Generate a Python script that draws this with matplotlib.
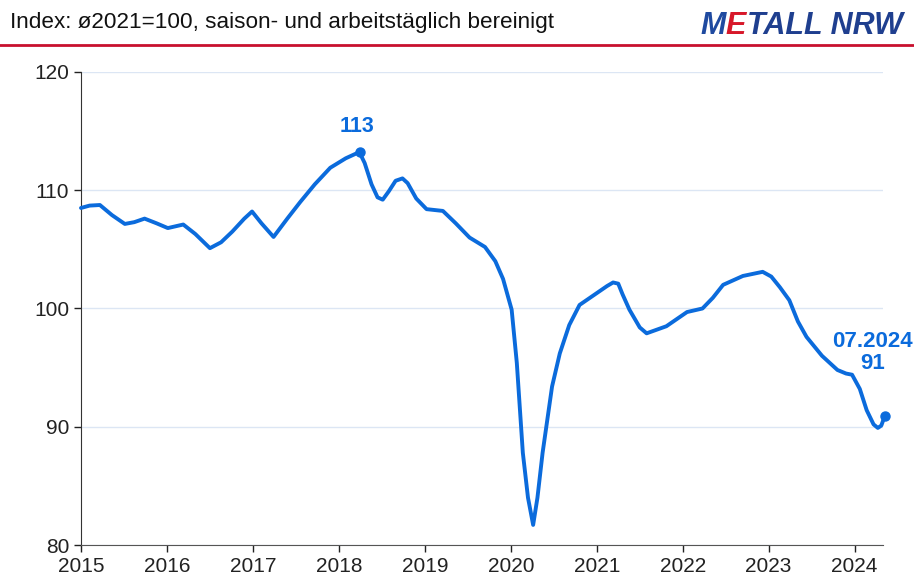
import matplotlib.pyplot as plt

plt.rcParams['font.family'] = ['Liberation Sans', 'DejaVu Sans']

# time axis in decimal years, index values
years = [2015.00, 2015.10, 2015.22, 2015.36, 2015.51, 2015.62, 2015.74, 2015.88,
         2016.01, 2016.19, 2016.33, 2016.50, 2016.63, 2016.76, 2016.90, 2016.99,
         2017.10, 2017.24, 2017.40, 2017.55, 2017.72, 2017.90, 2018.08, 2018.20,
         2018.24, 2018.30, 2018.38, 2018.45, 2018.51, 2018.58, 2018.66, 2018.74,
         2018.80, 2018.90, 2019.02, 2019.21, 2019.36, 2019.52, 2019.70, 2019.82,
         2019.91, 2020.01, 2020.07, 2020.14, 2020.20, 2020.26, 2020.31, 2020.37,
         2020.48, 2020.57, 2020.68, 2020.80, 2021.00, 2021.12, 2021.19, 2021.25,
         2021.30, 2021.38, 2021.50, 2021.58, 2021.81, 2022.05, 2022.23, 2022.35,
         2022.47, 2022.70, 2022.93, 2023.03, 2023.13, 2023.24, 2023.34, 2023.44,
         2023.62, 2023.80, 2023.90, 2023.97, 2024.06, 2024.14, 2024.22, 2024.27,
         2024.31, 2024.35]
values = [108.5, 108.7, 108.75, 107.9, 107.15, 107.3, 107.6, 107.2,
          106.8, 107.1, 106.3, 105.1, 105.6, 106.5, 107.6, 108.2,
          107.2, 106.05, 107.6, 109.0, 110.5, 111.9, 112.7, 113.1,
          113.2, 112.3, 110.5, 109.4, 109.2, 109.9, 110.8, 111.0,
          110.6, 109.3, 108.4, 108.25, 107.2, 106.0, 105.2, 104.0,
          102.5, 99.9, 95.4, 87.8, 84.0, 81.7, 84.0, 87.8,
          93.4, 96.2, 98.6, 100.3, 101.3, 101.9, 102.2, 102.1,
          101.2, 99.9, 98.4, 97.9, 98.5, 99.7, 100.0, 100.9,
          102.0, 102.75, 103.1, 102.7, 101.8, 100.7, 98.9, 97.6,
          96.0, 94.8, 94.5, 94.4, 93.2, 91.4, 90.2, 89.9,
          90.1, 90.9]

year_ticks = list(range(2015, 2025))
value_ticks = [80, 90, 100, 110, 120]

peak_label = "113"
last_label = "07.2024\n91"

blue = "#0b6bdc"

fig = plt.figure(figsize=(9.14, 5.79), dpi=100)
ax = fig.add_axes([0.0886, 0.0587, 0.8775, 0.817])

ax.plot(years, values, color=blue, lw=2.8, solid_capstyle="round",
        solid_joinstyle="round", zorder=3, clip_on=False)

ipk = values.index(max(values))
ax.plot(years[ipk], values[ipk], "o", color=blue, ms=6.5, zorder=4)
ax.plot(years[-1], values[-1], "o", color=blue, ms=6.5, zorder=4, clip_on=False)
ax.annotate(peak_label, (years[ipk], values[ipk]), xytext=(-2, 11),
            textcoords="offset points", ha="center", va="bottom",
            fontsize=15.5, fontweight="bold", color=blue)
ax.annotate(last_label, (years[-1], values[-1]), xytext=(-9, 30),
            textcoords="offset points", ha="center", va="bottom",
            fontsize=16, fontweight="bold", color=blue, linespacing=1.1,
            annotation_clip=False)

ax.set_xlim(2015, 2024.33)
ax.set_ylim(80, 120)
ax.set_xticks(year_ticks)
ax.set_yticks(value_ticks)
ax.tick_params(labelsize=15, colors="#222222", length=5, width=1)
ax.grid(axis="y", color="#dce6f4", lw=1)
ax.set_axisbelow(True)
for s in ["top", "right"]:
    ax.spines[s].set_visible(False)
ax.spines["left"].set_color("#333333")
ax.spines["bottom"].set_color("#555555")

# header
fig.text(0.011, 0.962, "Index: ø2021=100, saison- und arbeitstäglich bereinigt",
         fontsize=16.2, color="#111111", va="center", ha="left")
fig.add_artist(plt.Line2D([0, 1], [0.922, 0.922], color="#c8102e", lw=2,
                          transform=fig.transFigure))

# logo: place the pieces one after another
logo = dict(fontsize=22, fontweight="bold", fontstyle="italic", va="center")
r = fig.canvas.get_renderer()
x0 = 700 / 914
for part, col in [("M", "#1f4aa0"), ("E", "#d7182a"), ("TALL NRW", "#1f3f8f")]:
    t = fig.text(x0, 0.955, part, color=col, **logo)
    w = t.get_window_extent(r).width
    x0 += (w + 0.5) / 914

fig.savefig("out.png", dpi=100)
